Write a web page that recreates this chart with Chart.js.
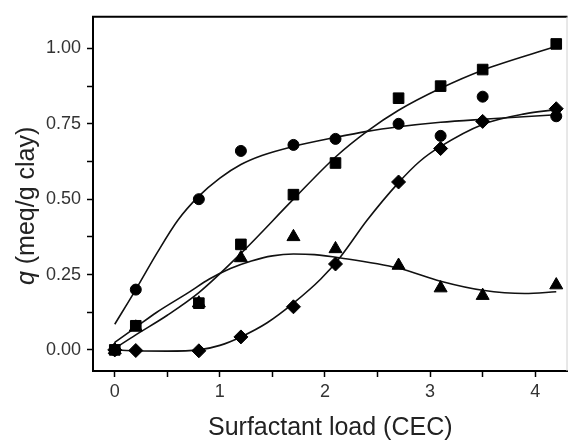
<!DOCTYPE html>
<html>
<head>
<meta charset="utf-8">
<script src="https://cdn.jsdelivr.net/npm/chart.js@4.4.1/dist/chart.umd.min.js"></script>
<style>
  html, body { margin: 0; padding: 0; background: #fff; }
</style>
</head>
<body>
<canvas id="isoChart" width="576" height="440"></canvas>
<script>
// surfactant load (CEC) of each sample
const loads = [0, 0.2, 0.8, 1.2, 1.7, 2.1, 2.7, 3.1, 3.5, 4.2];

// measured uptake q (meq/g clay), one array per series
const circleQ   = [0, 0.20, 0.50, 0.66, 0.68, 0.70, 0.75, 0.71, 0.84, 0.775];
const squareQ   = [0, 0.08, 0.155, 0.35, 0.515, 0.62, 0.835, 0.875, 0.93, 1.015];
const triangleQ = [0, 0.075, 0.155, 0.305, 0.375, 0.335, 0.28, 0.205, 0.18, 0.215];
const diamondQ  = [0, -0.002, -0.003, 0.043, 0.143, 0.285, 0.557, 0.668, 0.758, 0.80];

// fitted curves
const circleFitX   = [0, 0.2, 0.4, 0.6, 0.8, 1.0, 1.2, 1.4, 1.7, 2.1, 2.4, 2.7, 3.1, 3.5, 4.2];
const circleFitY   = [0.085, 0.20, 0.32, 0.43, 0.51, 0.57, 0.615, 0.645, 0.675, 0.705, 0.725, 0.74, 0.755, 0.765, 0.78];
const squareFitX   = [0, 0.2, 0.5, 0.8, 1.2, 1.7, 2.1, 2.4, 2.7, 3.1, 3.5, 4.2];
const squareFitY   = [0.005, 0.05, 0.115, 0.19, 0.32, 0.50, 0.64, 0.725, 0.795, 0.868, 0.928, 1.007];
const triangleFitX = [0, 0.2, 0.4, 0.7, 0.9, 1.1, 1.3, 1.5, 1.7, 1.9, 2.15, 2.7, 3.1, 3.5, 3.9, 4.2];
const triangleFitY = [0.025, 0.075, 0.125, 0.19, 0.235, 0.27, 0.295, 0.312, 0.318, 0.316, 0.305, 0.271, 0.228, 0.198, 0.187, 0.193];
const diamondFitX  = [0, 0.2, 0.5, 0.8, 1.0, 1.2, 1.45, 1.7, 1.96, 2.15, 2.4, 2.7, 2.9, 3.1, 3.5, 3.9, 4.2];
const diamondFitY  = [0, -0.003, -0.004, 0, 0.015, 0.043, 0.09, 0.155, 0.235, 0.31, 0.43, 0.555, 0.625, 0.675, 0.748, 0.783, 0.797];

// axis ticks
const xMajor = [0, 1, 2, 3, 4];
const xMinor = [0.5, 1.5, 2.5, 3.5];
const yMajor = [0, 0.25, 0.5, 0.75, 1];
const yMinor = [0.125, 0.375, 0.625, 0.875];

const FONT = "'Liberation Sans', Arial, sans-serif";

const pts = (xs, ys) => xs.map((x, i) => ({ x, y: ys[i] }));

function markers(data, style, radius) {
  return {
    data: pts(loads, data),
    showLine: false,
    pointStyle: style,
    pointRadius: radius,
    pointHoverRadius: radius,
    backgroundColor: '#000',
    borderColor: '#000',
    borderWidth: 1
  };
}

function curve(xs, ys) {
  return {
    data: pts(xs, ys),
    showLine: true,
    pointRadius: 0,
    borderColor: '#111',
    borderWidth: 1.6,
    cubicInterpolationMode: 'monotone',
    fill: false
  };
}

// top and right edges of the plot frame
const frame = {
  id: 'frame',
  afterDatasetsDraw(chart) {
    const { ctx, chartArea: a } = chart;
    ctx.save();
    ctx.strokeStyle = '#000';
    ctx.lineWidth = 2;
    ctx.beginPath();
    ctx.moveTo(a.left - 1, a.top);
    ctx.lineTo(a.right, a.top);
    ctx.stroke();
    ctx.strokeStyle = '#d0d0d0';
    ctx.lineWidth = 1;
    ctx.beginPath();
    ctx.moveTo(a.right - 0.5, a.top);
    ctx.lineTo(a.right - 0.5, a.bottom);
    ctx.stroke();
    ctx.restore();
  }
};

// y title with an italic q
const yTitle = {
  id: 'yTitle',
  afterDraw(chart) {
    const { ctx, chartArea: a } = chart;
    const italic = 'italic 25px ' + FONT;
    const plain = '25px ' + FONT;
    const rest = ' (meq/g clay)';
    ctx.save();
    ctx.font = italic;
    const wq = ctx.measureText('q').width;
    ctx.font = plain;
    const wr = ctx.measureText(rest).width;
    ctx.translate(27, (a.top + a.bottom) / 2 + 12);
    ctx.rotate(-Math.PI / 2);
    ctx.fillStyle = '#222';
    ctx.textBaseline = 'middle';
    ctx.textAlign = 'left';
    const x = -(wq + wr) / 2;
    ctx.font = italic;
    ctx.fillText('q', x, 0);
    ctx.font = plain;
    ctx.fillText(rest, x + wq, 0);
    ctx.restore();
  }
};

const tickGrid = {
  drawOnChartArea: false,
  drawTicks: true,
  tickLength: 6,
  tickColor: '#000',
  tickWidth: 1.5
};

new Chart(document.getElementById('isoChart'), {
  type: 'scatter',
  data: {
    datasets: [
      markers(circleQ, 'circle', 5.5),
      markers(squareQ, 'rect', 7.5),
      markers(triangleQ, 'triangle', 7.5),
      markers(diamondQ, 'rectRot', 7),
      curve(circleFitX, circleFitY),
      curve(squareFitX, squareFitY),
      curve(triangleFitX, triangleFitY),
      curve(diamondFitX, diamondFitY)
    ]
  },
  options: {
    responsive: false,
    animation: false,
    devicePixelRatio: 1,
    layout: { padding: { top: 11, right: 4, left: 0, bottom: 0 } },
    plugins: {
      legend: { display: false },
      tooltip: { enabled: false }
    },
    scales: {
      x: {
        type: 'linear',
        min: -0.207,
        max: 4.307,
        afterFit: s => { s.height = 69; },
        afterBuildTicks: s => {
          s.ticks = [...xMajor, ...xMinor].sort((p, q) => p - q).map(v => ({ value: v }));
        },
        ticks: {
          callback: v => xMajor.includes(v) ? String(v) : '',
          font: { family: FONT, size: 18 },
          color: '#333',
          padding: 4,
          autoSkip: false,
          maxRotation: 0
        },
        grid: tickGrid,
        border: { color: '#000', width: 2 },
        title: {
          display: true,
          text: 'Surfactant load (CEC)',
          font: { family: FONT, size: 25 },
          color: '#222',
          padding: { top: 0, bottom: -3 }
        }
      },
      y: {
        type: 'linear',
        min: -0.07,
        max: 1.105,
        afterFit: s => { s.width = 93; },
        afterBuildTicks: s => {
          s.ticks = [...yMajor, ...yMinor].sort((p, q) => p - q).map(v => ({ value: v }));
        },
        ticks: {
          callback: v => yMajor.includes(v) ? v.toFixed(2) : '',
          font: { family: FONT, size: 18 },
          color: '#333',
          padding: 6,
          autoSkip: false
        },
        grid: tickGrid,
        border: { color: '#000', width: 2 }
      }
    }
  },
  plugins: [frame, yTitle]
});
</script>
</body>
</html>
